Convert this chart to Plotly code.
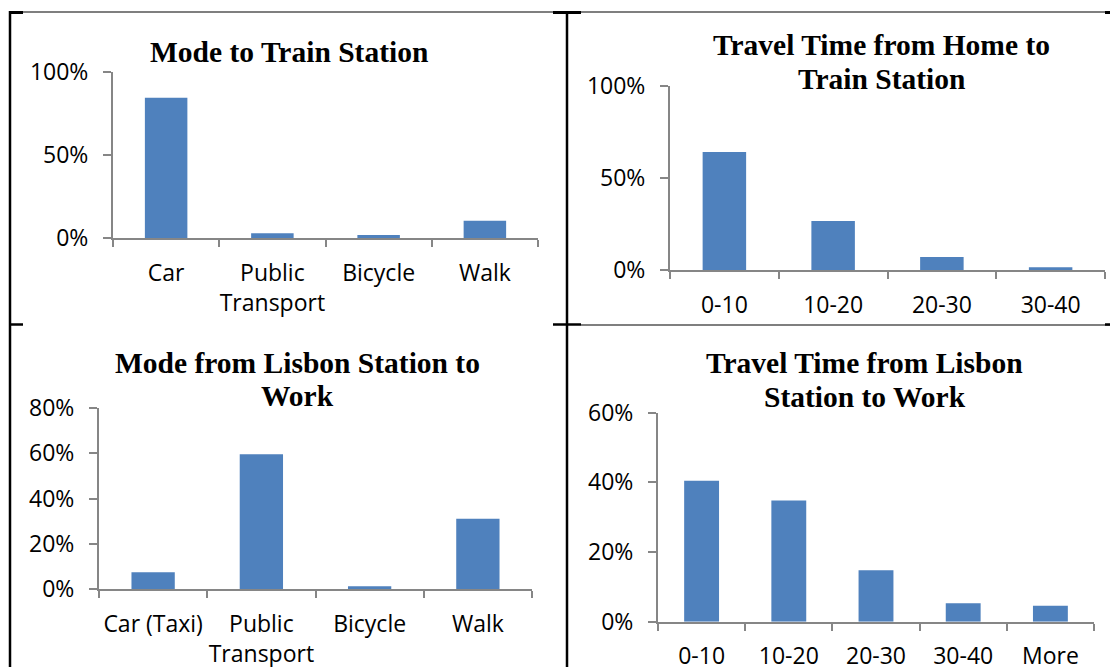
import plotly.graph_objects as go

# ---- data ----
mode_to_station_cats = ["Car", "Public<br>Transport", "Bicycle", "Walk"]
mode_to_station_vals = [0.845, 0.028, 0.018, 0.104]

time_home_station_cats = ["0-10", "10-20", "20-30", "30-40"]
time_home_station_vals = [0.641, 0.266, 0.07, 0.015]

mode_lisbon_work_cats = ["Car (Taxi)", "Public<br>Transport", "Bicycle", "Walk"]
mode_lisbon_work_vals = [0.075, 0.595, 0.013, 0.311]

time_lisbon_work_cats = ["0-10", "10-20", "20-30", "30-40", "More"]
time_lisbon_work_vals = [0.405, 0.348, 0.148, 0.053, 0.046]

title_lines = [
    ["Mode to Train Station"],
    ["Travel Time from Home to", "Train Station"],
    ["Mode from Lisbon Station to", "Work"],
    ["Travel Time from Lisbon", "Station to Work"],
]

W, H = 1110, 667
BAR = "#4F81BD"
AX = "#868686"
TICKFONT = dict(family="Open Sans", size=23, color="#000000")
TITLEFONT = dict(family="Liberation Serif", size=29.5, color="#000000")


def px(x):
    return x / W


def py(y):
    return 1 - y / H


fig = go.Figure()

panels = [
    # cats, vals, x0, x1 (px), ybottom, ytop (px), yrange, dtick
    (mode_to_station_cats, mode_to_station_vals, 113, 538, 238, 72, 1.0, 0.5),
    (time_home_station_cats, time_home_station_vals, 670, 1105, 270, 86, 1.0, 0.5),
    (mode_lisbon_work_cats, mode_lisbon_work_vals, 99, 532, 589.3, 407.7, 0.8, 0.2),
    (time_lisbon_work_cats, time_lisbon_work_vals, 658, 1094, 621.7, 412.7, 0.6, 0.2),
]

layout_axes = {}
for i, (cats, vals, x0, x1, yb, yt, ymax, dt) in enumerate(panels):
    n = "" if i == 0 else str(i + 1)
    fig.add_trace(go.Bar(x=cats, y=vals, xaxis="x" + n, yaxis="y" + n,
                         marker=dict(color=BAR, line=dict(width=0)),
                         showlegend=False))
    layout_axes["xaxis" + n] = dict(
        domain=[px(x0), px(x1)], anchor="y" + n, type="category",
        showline=True, linecolor=AX, linewidth=2, mirror=False,
        ticks="outside", tickson="boundaries", ticklen=7, tickwidth=2,
        tickcolor=AX, showgrid=False, tickfont=TICKFONT, tickangle=0,
        ticklabelstandoff=13, fixedrange=True, automargin=False,
    )
    layout_axes["yaxis" + n] = dict(
        domain=[py(yb), py(yt)], anchor="x" + n, range=[0, ymax],
        tickformat=".0%", dtick=dt, tick0=0,
        showline=True, linecolor=AX, linewidth=2,
        ticks="outside", ticklen=8, tickwidth=2, tickcolor=AX,
        showgrid=False, zeroline=False, tickfont=TICKFONT,
        ticklabelstandoff=10, fixedrange=True, automargin=False,
    )

# titles (one annotation per line, cap-centre positions)
title_pos = [
    (288.7, [51]),
    (881, [44, 78]),
    (297.8, [362, 395]),
    (864.6, [362.5, 396]),
]
annotations = []
for lines, (tx, ys) in zip(title_lines, title_pos):
    for line, ty in zip(lines, ys):
        annotations.append(dict(text="<b>" + line + "</b>", x=px(tx), y=py(ty + 1),
                                xref="paper", yref="paper", xanchor="center",
                                yanchor="middle", showarrow=False, font=TITLEFONT))

# table borders
def seg(x0, y0, x1, y1, w):
    return dict(type="line", xref="paper", yref="paper",
                x0=px(x0), y0=py(y0), x1=px(x1), y1=py(y1),
                line=dict(color="#000000", width=w))

shapes = [
    seg(9, 12, 1110, 12, 1.2),
    seg(9, 12.5, 23, 12.5, 3),
    seg(553, 12.5, 581, 12.5, 3),
    seg(1105, 12.5, 1110, 12.5, 3),
    seg(10, 11, 10, 667, 2.5),
    seg(567, 12, 567, 667, 2.5),
    seg(10, 324.5, 23, 324.5, 2.5),
    seg(553, 324.5, 581, 324.5, 2.5),
    seg(581, 325, 1110, 325, 1.2),
    seg(1105, 324.5, 1110, 324.5, 2.5),
]

fig.update_layout(
    width=W, height=H,
    margin=dict(l=0, r=0, t=0, b=0),
    paper_bgcolor="white", plot_bgcolor="white",
    bargap=0.6,
    annotations=annotations,
    shapes=shapes,
    showlegend=False,
    **layout_axes,
)

fig.write_html("out.html", config={"displayModeBar": False})
